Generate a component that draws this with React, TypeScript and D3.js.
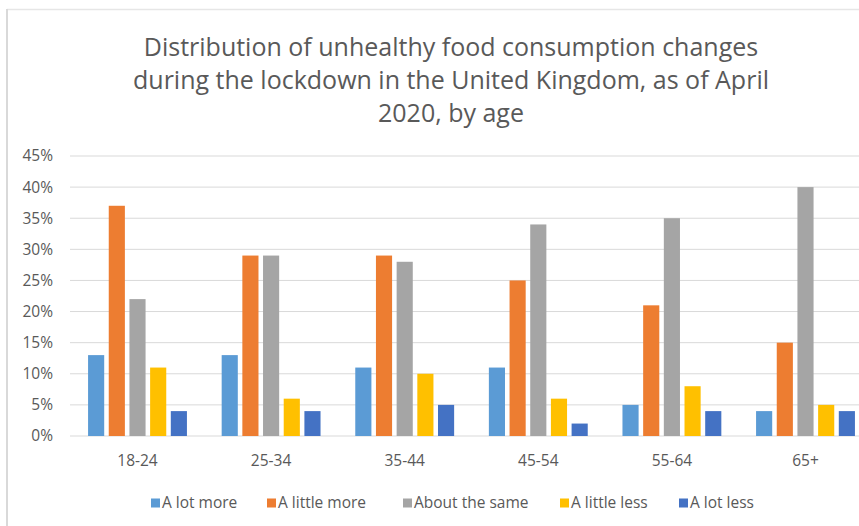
import React from "react";
import * as d3 from "d3";

const categories = ["18-24", "25-34", "35-44", "45-54", "55-64", "65+"];
const seriesNames = ["A lot more", "A little more", "About the same", "A little less", "A lot less"];
const aLotMore = [13, 13, 11, 11, 5, 4];
const aLittleMore = [37, 29, 29, 25, 21, 15];
const aboutTheSame = [22, 29, 28, 34, 35, 40];
const aLittleLess = [11, 6, 10, 6, 8, 5];
const aLotLess = [4, 4, 5, 2, 4, 4];
const yTicks = [0, 5, 10, 15, 20, 25, 30, 35, 40, 45];
const titleLines = [
  "Distribution of unhealthy food consumption changes",
  "during the lockdown in the United Kingdom, as of April",
  "2020, by age",
];

const seriesValues = [aLotMore, aLittleMore, aboutTheSame, aLittleLess, aLotLess];
const colors = ["#5B9BD5", "#ED7D31", "#A5A5A5", "#FFC000", "#4472C4"];

const W = 859;
const H = 526;
const FONT = "'Open Sans', 'DejaVu Sans', sans-serif";
const TEXT = "#595959";
const LABEL_SIZE = 15.5;

export default function App() {
  const x0 = d3
    .scaleBand<string>()
    .domain(categories)
    .range([70.7, 872.3])
    .paddingInner(0.26)
    .paddingOuter(0.13);
  const x1 = d3
    .scaleBand<string>()
    .domain(seriesNames)
    .range([0, x0.bandwidth()])
    .paddingInner(0.22);
  const y = d3.scaleLinear().domain([0, 45]).range([436, 156]);

  const legendX = [151, 267, 403, 560, 679];

  return (
    <svg
      width={W}
      height={H}
      style={{ position: "absolute", left: 0, top: 0, background: "#fff" }}
      fontFamily={FONT}
    >
      {/* chart frame */}
      <line x1={7} x2={W} y1={9.5} y2={9.5} stroke="#e6e6e6" strokeWidth={1.5} />
      <line x1={7} x2={7} y1={9} y2={H} stroke="#d9d9d9" strokeWidth={2} />

      {/* title */}
      {titleLines.map((t, i) => (
        <text
          key={t}
          x={451}
          y={56 + i * 33}
          textAnchor="middle"
          fontSize={25}
          fill={TEXT}
        >
          {t}
        </text>
      ))}

      {/* gridlines and y labels */}
      {yTicks.map((t) => (
        <g key={t}>
          <line x1={70} x2={W} y1={y(t)} y2={y(t)} stroke="#d9d9d9" strokeWidth={1} />
          <text
            x={53}
            y={y(t)}
            dy="0.35em"
            textAnchor="end"
            fontSize={LABEL_SIZE}
            fill={TEXT}
          >
            {t}%
          </text>
        </g>
      ))}

      {/* bars */}
      {categories.map((c, ci) => (
        <g key={c} transform={`translate(${x0(c)},0)`}>
          {seriesNames.map((s, si) => {
            const v = seriesValues[si][ci];
            return (
              <rect
                key={s}
                x={x1(s)}
                y={y(v)}
                width={x1.bandwidth()}
                height={y(0) - y(v)}
                fill={colors[si]}
              />
            );
          })}
          <text
            x={x0.bandwidth() / 2}
            y={461}
            dy="0.35em"
            textAnchor="middle"
            fontSize={LABEL_SIZE}
            fill={TEXT}
          >
            {c}
          </text>
        </g>
      ))}

      {/* legend */}
      {seriesNames.map((s, i) => (
        <g key={s} transform={`translate(${legendX[i]},503)`}>
          <rect x={0} y={-4.5} width={9} height={9} fill={colors[i]} />
          <text x={11} y={0} dy="0.35em" fontSize={LABEL_SIZE} fill={TEXT}>
            {s}
          </text>
        </g>
      ))}
    </svg>
  );
}
